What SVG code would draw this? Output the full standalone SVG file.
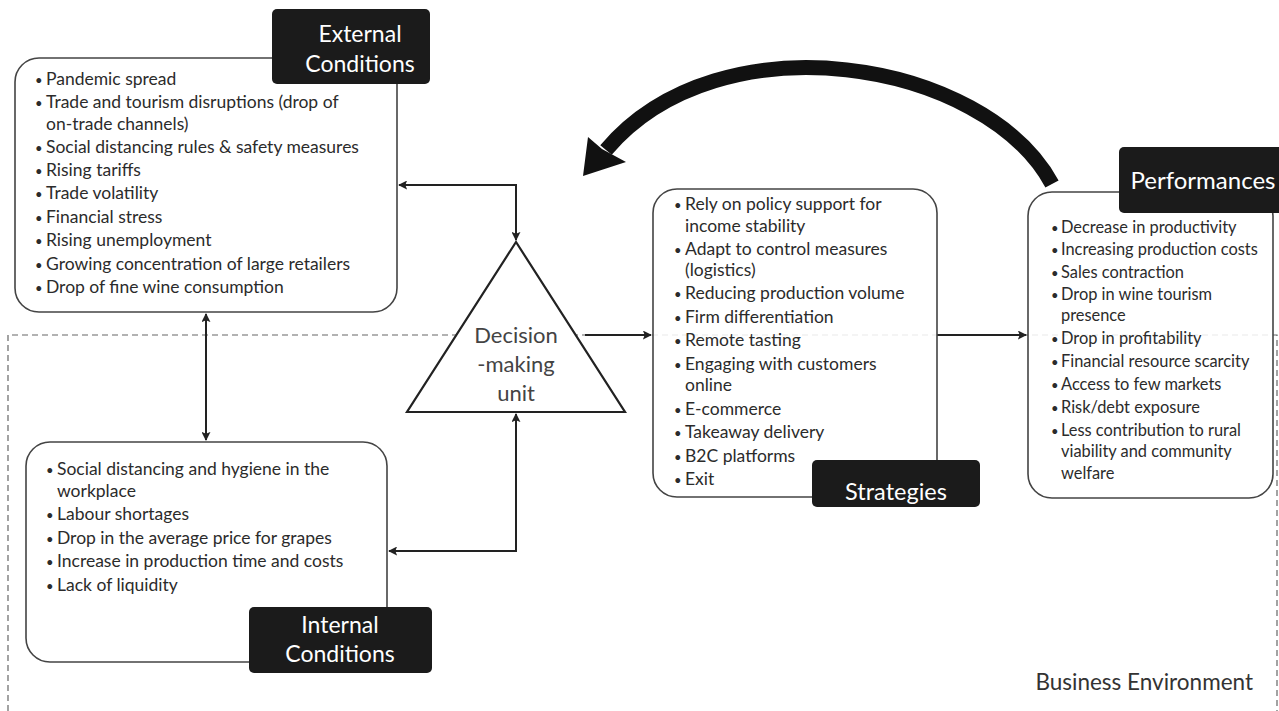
<svg xmlns="http://www.w3.org/2000/svg" width="1279" height="711" viewBox="0 0 1279 711">
<defs>
<style>
.box{fill:#fff;stroke:#444;stroke-width:1.6}
.boxt{fill:#fff;fill-opacity:0.85;stroke:#444;stroke-width:1.6}
.lbl{fill:#1b1b1b}
.lt{font-family:Lato,"Liberation Sans",sans-serif;font-size:23px;fill:#fff;text-anchor:middle}
.bt{font-family:Lato,"Liberation Sans",sans-serif;font-size:17.5px;fill:#2b2b2b}
.bt .b{font-size:13px}
.con{fill:none;stroke:#222;stroke-width:2}
.dash{fill:none;stroke:#666;stroke-width:1.2;stroke-dasharray:6 4}
</style>
<marker id="ah" viewBox="0 0 10 10" refX="9" refY="5" markerWidth="9" markerHeight="9" markerUnits="userSpaceOnUse" orient="auto-start-reverse">
<path d="M0,0 L10,5 L0,10 L2,5 z" fill="#222"/>
</marker>
</defs>
<rect width="1279" height="711" fill="#fff"/>

<g id="business-environment">
<path class="dash" d="M8,711 V335 H1277 V711"/>
<text x="1253" y="690" text-anchor="end" style="font-family:Lato,'Liberation Sans',sans-serif;font-size:22.5px;fill:#333">Business Environment</text>
</g>

<g id="feedback-arrow">
<path d="M1052,184 C985,60 720,15 606,150" fill="none" stroke="#111" stroke-width="15"/>
<polygon points="583,176 588,137 602,149 626,162" fill="#111"/>
</g>

<g id="connectors">
<path class="con" d="M399,185 H516 V240" marker-start="url(#ah)" marker-end="url(#ah)"/>
<path class="con" d="M206,314 V440" marker-start="url(#ah)" marker-end="url(#ah)"/>
<path class="con" d="M389,551 H516 V414" marker-start="url(#ah)" marker-end="url(#ah)"/>
<path class="con" d="M585,335 H651" marker-end="url(#ah)"/>
<path class="con" d="M937,335 H1026" marker-end="url(#ah)"/>
</g>

<g id="external-conditions">
<rect class="box" x="15" y="58" width="382" height="254" rx="24"/>
<rect class="lbl" x="272" y="9" width="158" height="75" rx="5"/>
<text class="lt"><tspan x="360" y="42">External</tspan><tspan x="360" y="72">Conditions</tspan></text>
<text class="bt">
<tspan class="b" x="35" y="85">•</tspan><tspan x="46" y="85">Pandemic spread</tspan>
<tspan class="b" x="35" y="108">•</tspan><tspan x="46" y="108">Trade and tourism disruptions (drop of</tspan>
<tspan x="46" y="130">on-trade channels)</tspan>
<tspan class="b" x="35" y="153">•</tspan><tspan x="46" y="153">Social distancing rules &amp; safety measures</tspan>
<tspan class="b" x="35" y="176">•</tspan><tspan x="46" y="176">Rising tariffs</tspan>
<tspan class="b" x="35" y="199">•</tspan><tspan x="46" y="199">Trade volatility</tspan>
<tspan class="b" x="35" y="223">•</tspan><tspan x="46" y="223">Financial stress</tspan>
<tspan class="b" x="35" y="246">•</tspan><tspan x="46" y="246">Rising unemployment</tspan>
<tspan class="b" x="35" y="270">•</tspan><tspan x="46" y="270">Growing concentration of large retailers</tspan>
<tspan class="b" x="35" y="293">•</tspan><tspan x="46" y="293">Drop of fine wine consumption</tspan>
</text>
</g>

<g id="decision-making-unit">
<polygon points="516,242 407,412 625,412" fill="#fff" stroke="#222" stroke-width="2.2"/>
<text style="font-family:Lato,'Liberation Sans',sans-serif;font-size:22px;fill:#444;text-anchor:middle"><tspan x="516" y="343">Decision</tspan><tspan x="516" y="372">-making</tspan><tspan x="516" y="401">unit</tspan></text>
</g>

<g id="internal-conditions">
<rect class="box" x="26" y="442" width="361" height="220" rx="24"/>
<rect class="lbl" x="249" y="607" width="183" height="66" rx="5"/>
<text class="lt"><tspan x="340" y="633">Internal</tspan><tspan x="340" y="662">Conditions</tspan></text>
<text class="bt">
<tspan class="b" x="46" y="475">•</tspan><tspan x="57" y="475">Social distancing and hygiene in the</tspan>
<tspan x="57" y="497">workplace</tspan>
<tspan class="b" x="46" y="520">•</tspan><tspan x="57" y="520">Labour shortages</tspan>
<tspan class="b" x="46" y="544">•</tspan><tspan x="57" y="544">Drop in the average price for grapes</tspan>
<tspan class="b" x="46" y="567">•</tspan><tspan x="57" y="567">Increase in production time and costs</tspan>
<tspan class="b" x="46" y="591">•</tspan><tspan x="57" y="591">Lack of liquidity</tspan>
</text>
</g>

<g id="strategies">
<rect class="boxt" x="653" y="189" width="284" height="308" rx="24"/>
<rect class="lbl" x="812" y="460" width="168" height="47" rx="5"/>
<text class="lt" x="896" y="500" style="font-size:23.5px">Strategies</text>
<text class="bt">
<tspan class="b" x="674" y="210">•</tspan><tspan x="685" y="210">Rely on policy support for</tspan>
<tspan x="685" y="232">income stability</tspan>
<tspan class="b" x="674" y="255">•</tspan><tspan x="685" y="255">Adapt to control measures</tspan>
<tspan x="685" y="276">(logistics)</tspan>
<tspan class="b" x="674" y="299">•</tspan><tspan x="685" y="299">Reducing production volume</tspan>
<tspan class="b" x="674" y="323">•</tspan><tspan x="685" y="323">Firm differentiation</tspan>
<tspan class="b" x="674" y="346">•</tspan><tspan x="685" y="346">Remote tasting</tspan>
<tspan class="b" x="674" y="370">•</tspan><tspan x="685" y="370">Engaging with customers</tspan>
<tspan x="685" y="391">online</tspan>
<tspan class="b" x="674" y="415">•</tspan><tspan x="685" y="415">E-commerce</tspan>
<tspan class="b" x="674" y="438">•</tspan><tspan x="685" y="438">Takeaway delivery</tspan>
<tspan class="b" x="674" y="462">•</tspan><tspan x="685" y="462">B2C platforms</tspan>
<tspan class="b" x="674" y="485">•</tspan><tspan x="685" y="485">Exit</tspan>
</text>
</g>

<g id="performances">
<rect class="boxt" x="1028" y="192" width="245" height="306" rx="24"/>
<rect class="lbl" x="1119" y="147" width="166" height="66" rx="5"/>
<text class="lt" x="1203" y="189" style="font-size:24px">Performances</text>
<text class="bt" style="font-size:16.4px">
<tspan class="b" x="1051" y="233">•</tspan><tspan x="1061" y="233">Decrease in productivity</tspan>
<tspan class="b" x="1051" y="255">•</tspan><tspan x="1061" y="255">Increasing production costs</tspan>
<tspan class="b" x="1051" y="278">•</tspan><tspan x="1061" y="278">Sales contraction</tspan>
<tspan class="b" x="1051" y="300">•</tspan><tspan x="1061" y="300">Drop in wine tourism</tspan>
<tspan x="1061" y="321">presence</tspan>
<tspan class="b" x="1051" y="344">•</tspan><tspan x="1061" y="344">Drop in profitability</tspan>
<tspan class="b" x="1051" y="367">•</tspan><tspan x="1061" y="367">Financial resource scarcity</tspan>
<tspan class="b" x="1051" y="390">•</tspan><tspan x="1061" y="390">Access to few markets</tspan>
<tspan class="b" x="1051" y="413">•</tspan><tspan x="1061" y="413">Risk/debt exposure</tspan>
<tspan class="b" x="1051" y="436">•</tspan><tspan x="1061" y="436">Less contribution to rural</tspan>
<tspan x="1061" y="457">viability and community</tspan>
<tspan x="1061" y="479">welfare</tspan>
</text>
</g>
</svg>
